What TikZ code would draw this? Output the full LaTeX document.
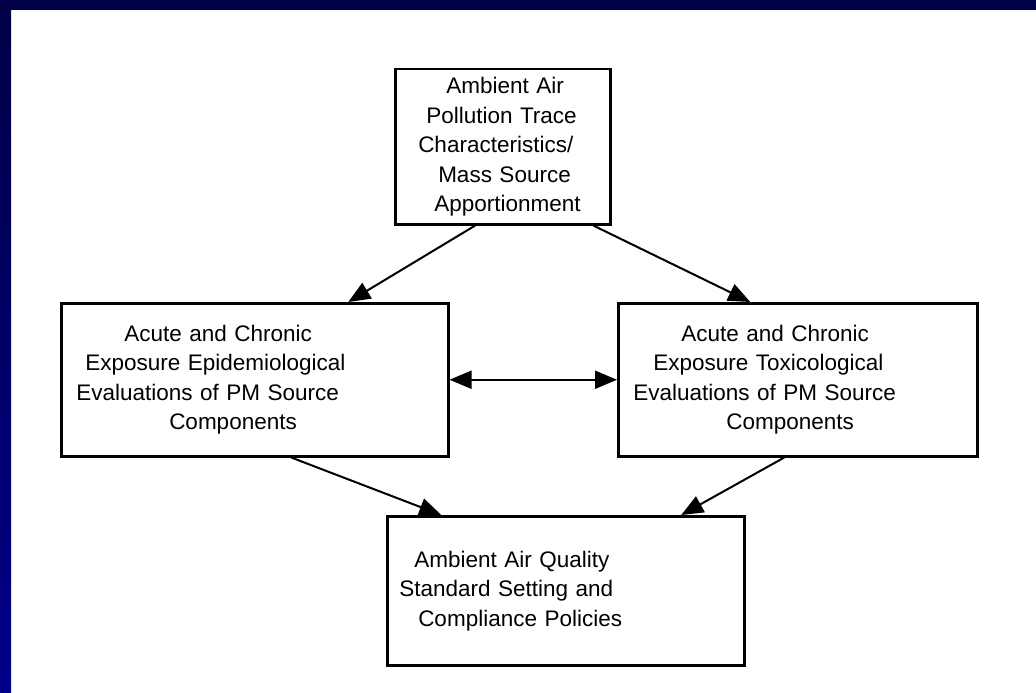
\documentclass[tikz,border=0pt]{standalone}
\usepackage{fontspec}
\setmainfont{Liberation Sans}
\usetikzlibrary{arrows.meta}

\definecolor{framenavy}{RGB}{0,0,70}
\definecolor{frameblue}{RGB}{0,0,138}

\tikzset{
  box/.style={draw, line width=2.5pt, anchor=north west, align=left,
    inner sep=0pt, font=\fontsize{22.5}{29.5}\selectfont},
  link/.style={line width=2pt, -{Triangle[length=22pt,width=18pt]}},
}

\begin{document}
\begin{tikzpicture}[x=1pt,y=-1pt]
      \fill[white] (0,0) rectangle (1036,693) ;
      \shade[top color=framenavy,bottom color=frameblue] (0,0) rectangle (11,693) ;
      \fill[framenavy] (0,0) rectangle (1036,10) ;
      % boxes
      \node[box,text width=215pt,minimum height=155pt] (trace) at (394,68)
        {\hspace*{51pt}Ambient Air\\ \hspace*{31pt}Pollution Trace\\
         \hspace*{23pt}Characteristics/\\ \hspace*{43pt}Mass Source\\
         \hspace*{39pt}Apportionment} ;
      \node[box,text width=387pt,minimum height=153pt] (epi) at (60,302)
        {\hspace*{63pt}Acute and Chronic\\ \hspace*{24pt}Exposure Epidemiological\\
         \hspace*{15pt}Evaluations of PM Source\\ \hspace*{108pt}Components} ;
      \node[box,text width=359pt,minimum height=153pt] (tox) at (617,302)
        {\hspace*{63pt}Acute and Chronic\\ \hspace*{35pt}Exposure Toxicological\\
         \hspace*{15pt}Evaluations of PM Source\\ \hspace*{108pt}Components} ;
      \node[box,text width=357pt,minimum height=149pt] (policy) at (386,515)
        {\hspace*{27pt}Ambient Air Quality\\ \hspace*{12pt}Standard Setting and\\
         \hspace*{31pt}Compliance Policies} ;
      % arrows
      \draw[link] ([xshift=-27.5pt]trace.south) -- ([xshift=93.5pt]epi.north) ;
      \draw[link] ([xshift=90.5pt]trace.south) -- ([xshift=-47.5pt]tox.north) ;
      \draw[link,{Triangle[length=22pt,width=18pt]}-{Triangle[length=22pt,width=18pt]}]
        (epi.east) -- (tox.west) ;
      \draw[link] ([xshift=36.5pt]epi.south) -- ([xshift=-124.5pt]policy.north) ;
      \draw[link] ([xshift=-13.5pt]tox.south) -- ([xshift=115.5pt]policy.north) ;
    \end{tikzpicture}
\end{document}
